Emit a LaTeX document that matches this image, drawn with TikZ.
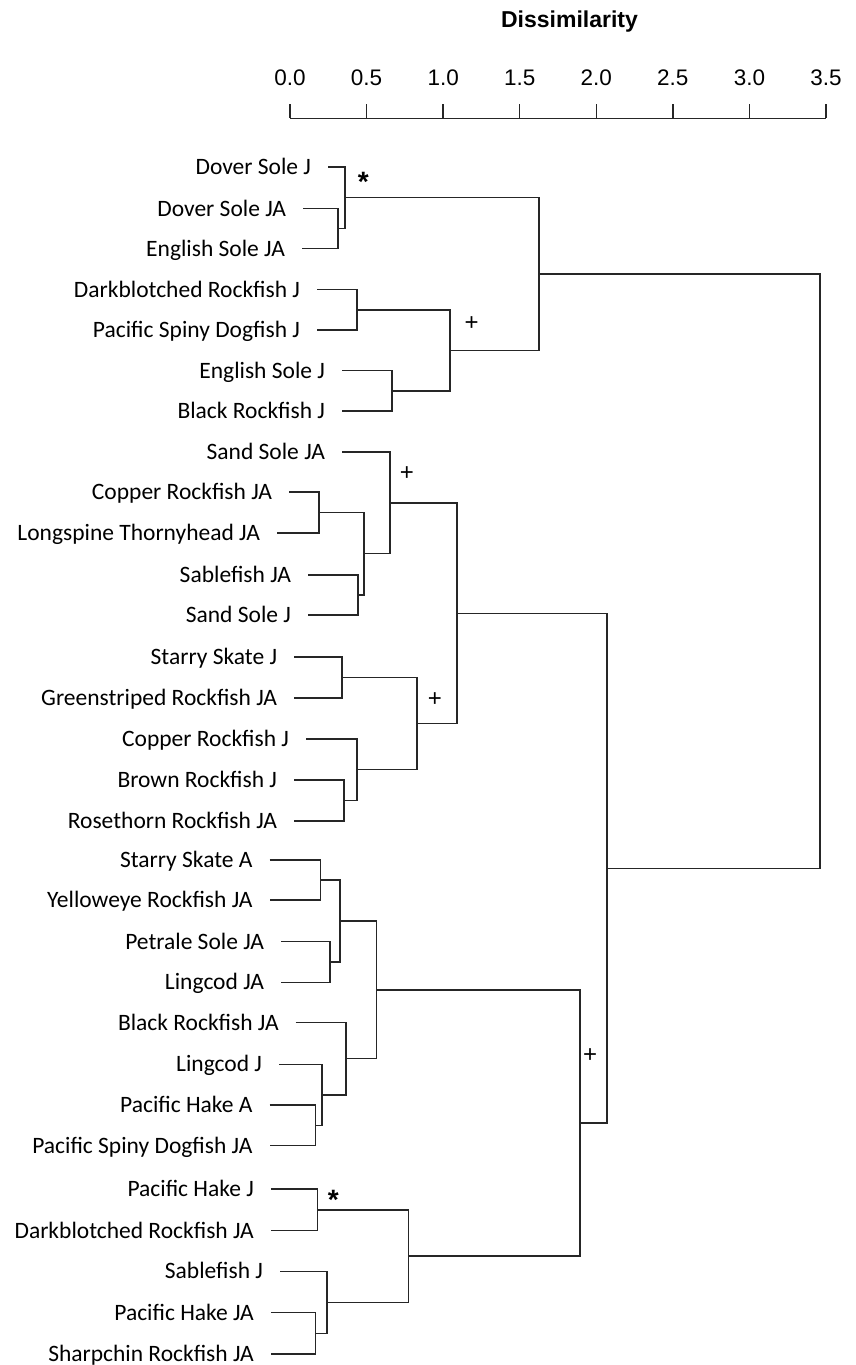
\documentclass[tikz,border=0pt]{standalone}
\usepackage{fontspec}
\setmainfont{Carlito}
\newfontfamily\axisfont{Liberation Sans}
\usepackage{tikz}
\usetikzlibrary{positioning}
\tikzstyle{branch} = [line width=1.4pt, black!85]
\tikzstyle{leaf} = [anchor=east, inner xsep=17pt, inner ysep=0pt, outer sep=0pt, text height=15.1pt, text depth=0pt, font=\fontsize{23.5}{28}\selectfont]
\tikzstyle{plusmark} = [anchor=north, inner sep=0pt, outer sep=0pt, font=\axisfont\fontsize{24}{28}\selectfont]
\tikzstyle{starmark} = [anchor=north, inner sep=0pt, outer sep=0pt, font=\axisfont\bfseries\fontsize{28}{32}\selectfont]
\tikzstyle{ticklabel} = [inner sep=0pt, text height=16.1pt, text depth=0pt, font=\axisfont\fontsize{22.5}{27}\selectfont]

\begin{document}
\begin{tikzpicture}[x=1pt, y=-1pt]
    \useasboundingbox (0,0) rectangle (855,1365);

    % axis
    \node[ticklabel, font=\axisfont\bfseries\fontsize{23}{27}\selectfont] (title) at (569.5,19) {Dissimilarity};
    \foreach \v [count=\i from 0] in {0.0,0.5,1.0,1.5,2.0,2.5,3.0,3.5} {
        \node[ticklabel] (tl\i) at ({290+76.57*\i},77) {\v};
        \draw[branch] ({290+76.57*\i},104.3) -- ({290+76.57*\i},118.3);
    }
    \draw[branch] (290,118.3) -- (826,118.3);

    % leaves
    \foreach \n/\v/\h/\t in {dsj/167/328/Dover Sole J, dsja/208.5/303/Dover Sole JA, esja/248.5/302/English Sole JA,
        drj/289.5/317/Darkblotched Rockfish J, psdj/330/317/Pacific Spiny Dogfish J,
        esj/370.6/342/English Sole J, brj/411/342/Black Rockfish J,
        ssja/452/342/Sand Sole JA, crja/492/289/Copper Rockfish JA, ltja/533/277/Longspine Thornyhead JA,
        sfja/575/308/Sablefish JA, ssj/615/308/Sand Sole J,
        skj/657/294/Starry Skate J, grja/698/294/Greenstriped Rockfish JA,
        crj/739/306/Copper Rockfish J, bwj/780/294/Brown Rockfish J, rtja/821/294/Rosethorn Rockfish JA,
        ska/860/269.5/Starry Skate A, yeja/900/269.5/Yelloweye Rockfish JA,
        psja/941.6/281/Petrale Sole JA, lcja/982.3/281/Lingcod JA,
        brja/1022.6/295.7/Black Rockfish JA, lcj/1064.3/279/Lingcod J,
        pha/1105/269.5/Pacific Hake A, psdja/1145.6/269.5/Pacific Spiny Dogfish JA,
        phj/1189/270.8/Pacific Hake J, drja/1230.5/270.8/Darkblotched Rockfish JA,
        sfj/1271.4/280/Sablefish J, phja/1312.7/270.8/Pacific Hake JA, scja/1354/270.8/Sharpchin Rockfish JA}
        \node[leaf] (\n) at (\h,\v) {\t};

    % merges
    \foreach \m/\h/\v/\a/\b in {a1/338/228.5/dsja/esja, a2/345/197.75/dsj/a1, a3/357/310/drj/psdj,
        a4/392/391/esj/brj, a5/450/350.5/a3/a4, a6/539/274/a2/a5,
        b1/319/512.5/crja/ltja, b2/358/595/sfja/ssj, b3/364/553.75/b1/b2, b4/390/503/ssja/b3,
        b5/342/677.5/skj/grja, b6/344/800.5/bwj/rtja, b7/357/769.75/crj/b6, b8/417/723.75/b5/b7,
        b9/457/613.5/b4/b8,
        c1/320.6/880/ska/yeja, c2/330/962/psja/lcja, c3/340/921/c1/c2,
        c4/315.6/1125.3/pha/psdja, c5/321.8/1094.8/lcj/c4, c6/346/1058.7/brja/c5, c7/376.6/989.9/c3/c6,
        c8/317.7/1209.8/phj/drja, c9/315.2/1333.4/phja/scja, c10/326.8/1302.4/sfj/c9,
        c11/408.5/1256.1/c8/c10, c12/580/1123/c7/c11,
        d1/607/868.25/b9/c12, root/820/571.1/a6/d1} {
        \coordinate (\m) at (\h,\v);
        \draw[branch] (\a) -| (\m) |- (\b);
    }

    % significance marks
    \node[starmark] (s1) at (363.3,172) {*};
    \node[plusmark] (s2) at (471.7,316.5) {+};
    \node[plusmark] (s3) at (407,466.5) {+};
    \node[plusmark] (s4) at (435,692.5) {+};
    \node[plusmark] (s5) at (590,1048.5) {+};
    \node[starmark] (s6) at (333.3,1190) {*};
\end{tikzpicture}
\end{document}
